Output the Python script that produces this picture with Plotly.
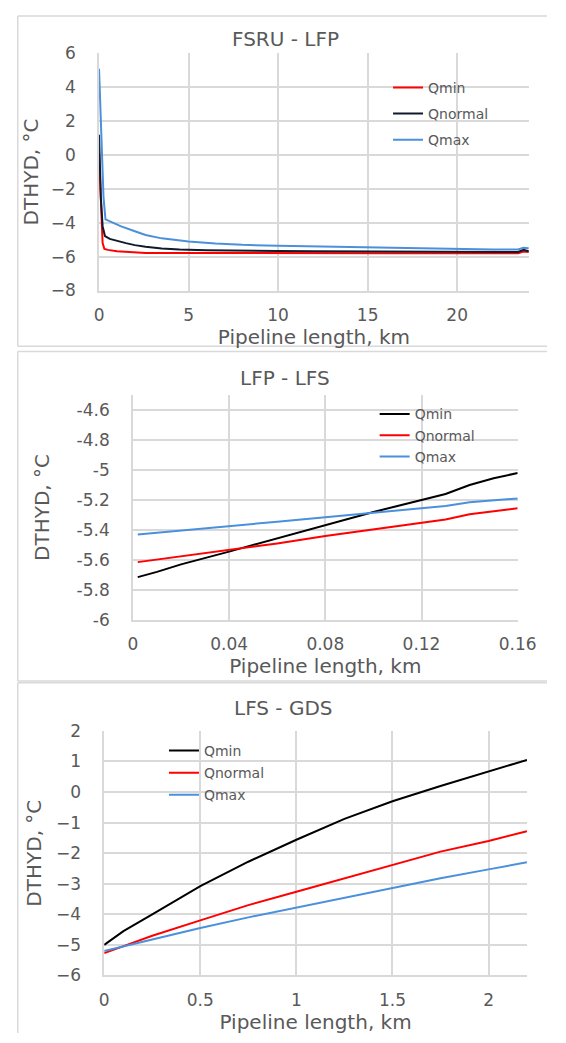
import plotly.graph_objects as go

W, H = 566, 1043

# ---------------- data ----------------
# Panel 1: FSRU - LFP
p1_qmin_x = [0, 0.1, 0.2, 0.3, 0.5, 1.0, 1.5, 2.0, 2.6, 4, 6, 8, 10, 12, 14, 16, 18, 20, 22, 23.4, 23.7, 24]
p1_qmin_y = [0.1, -3.0, -5.2, -5.55, -5.6, -5.68, -5.72, -5.75, -5.78, -5.78, -5.79, -5.79, -5.79, -5.79, -5.79, -5.8, -5.8, -5.8, -5.8, -5.8, -5.7, -5.72]
p1_qnorm_x = [0, 0.1, 0.2, 0.33, 0.6, 1.0, 1.5, 2.0, 2.6, 3.5, 4.5, 6, 8, 10, 12, 14, 16, 18, 20, 22, 23.4, 23.7, 24]
p1_qnorm_y = [1.2, -2.5, -4.2, -4.78, -4.95, -5.08, -5.2, -5.32, -5.42, -5.52, -5.58, -5.62, -5.66, -5.67, -5.68, -5.69, -5.71, -5.72, -5.72, -5.72, -5.72, -5.6, -5.68]
p1_qmax_x = [0, 0.05, 0.13, 0.25, 0.36, 0.7, 1.2, 2.0, 2.6, 3.5, 5, 6.5, 8, 10, 12, 14, 16, 18, 20, 22, 23.4, 23.7, 24]
p1_qmax_y = [5.1, 3.5, 0.9, -2.5, -3.8, -3.95, -4.2, -4.5, -4.72, -4.92, -5.1, -5.22, -5.3, -5.36, -5.4, -5.44, -5.48, -5.52, -5.56, -5.58, -5.58, -5.48, -5.5]

# Panel 2: LFP - LFS
p2_qmin_x = [0.002, 0.01, 0.02, 0.03, 0.04, 0.05, 0.06, 0.07, 0.08, 0.09, 0.1, 0.11, 0.12, 0.13, 0.14, 0.15, 0.16]
p2_qmin_y = [-5.715, -5.68, -5.63, -5.59, -5.545, -5.5, -5.455, -5.41, -5.365, -5.325, -5.28, -5.24, -5.2, -5.16, -5.1, -5.055, -5.02]
p2_qnorm_x = [0.002, 0.02, 0.04, 0.06, 0.08, 0.1, 0.12, 0.13, 0.14, 0.16]
p2_qnorm_y = [-5.615, -5.575, -5.53, -5.49, -5.44, -5.395, -5.35, -5.33, -5.295, -5.255]
p2_qmax_x = [0.002, 0.02, 0.04, 0.06, 0.08, 0.1, 0.12, 0.13, 0.14, 0.16]
p2_qmax_y = [-5.43, -5.405, -5.375, -5.345, -5.315, -5.285, -5.255, -5.24, -5.215, -5.19]

# Panel 3: LFS - GDS
p3_x = [0, 0.1, 0.25, 0.5, 0.75, 1.0, 1.25, 1.5, 1.75, 2.0, 2.2]
p3_qmin_y = [-5.0, -4.55, -4.0, -3.08, -2.28, -1.56, -0.88, -0.3, 0.2, 0.68, 1.05]
p3_qnorm_y = [-5.27, -5.05, -4.7, -4.2, -3.7, -3.26, -2.82, -2.38, -1.95, -1.6, -1.28]
p3_qmax_y = [-5.2, -5.05, -4.82, -4.45, -4.1, -3.78, -3.45, -3.13, -2.82, -2.53, -2.3]

titles = ["FSRU - LFP", "LFP - LFS", "LFS - GDS"]
p2_ytick_vals = [-6, -5.8, -5.6, -5.4, -5.2, -5, -4.8, -4.6]
p2_ytick_text = ["-6", "-5.8", "-5.6", "-5.4", "-5.2", "-5", "-4.8", "-4.6"]
p2_xtick_vals = [0, 0.04, 0.08, 0.12, 0.16]
p2_xtick_text = ["0", "0.04", "0.08", "0.12", "0.16"]

RED = "#ff0000"
BLACK = "#000000"
NAVY = "#111a2a"
BLUE = "#4a90dc"
TXT = "#595959"
GRID = "#d9d9d9"
FONT = "DejaVu Sans"


def px(x):
    return x / W


def py(y):
    return 1 - y / H


fig = go.Figure()

# panel 1
fig.add_trace(go.Scatter(x=p1_qmin_x, y=p1_qmin_y, name="Qmin", mode="lines",
                         line=dict(color=RED, width=2), xaxis="x", yaxis="y",
                         legend="legend", legendgroup="a1"))
fig.add_trace(go.Scatter(x=p1_qnorm_x, y=p1_qnorm_y, name="Qnormal", mode="lines",
                         line=dict(color=NAVY, width=2), xaxis="x", yaxis="y",
                         legend="legend", legendgroup="b1"))
fig.add_trace(go.Scatter(x=p1_qmax_x, y=p1_qmax_y, name="Qmax", mode="lines",
                         line=dict(color=BLUE, width=2), xaxis="x", yaxis="y",
                         legend="legend", legendgroup="c1"))
# panel 2
fig.add_trace(go.Scatter(x=p2_qmin_x, y=p2_qmin_y, name="Qmin", mode="lines",
                         line=dict(color=BLACK, width=2), xaxis="x2", yaxis="y2",
                         legend="legend2", legendgroup="a2"))
fig.add_trace(go.Scatter(x=p2_qnorm_x, y=p2_qnorm_y, name="Qnormal", mode="lines",
                         line=dict(color=RED, width=2), xaxis="x2", yaxis="y2",
                         legend="legend2", legendgroup="b2"))
fig.add_trace(go.Scatter(x=p2_qmax_x, y=p2_qmax_y, name="Qmax", mode="lines",
                         line=dict(color=BLUE, width=2), xaxis="x2", yaxis="y2",
                         legend="legend2", legendgroup="c2"))
# panel 3
fig.add_trace(go.Scatter(x=p3_x, y=p3_qmin_y, name="Qmin", mode="lines",
                         line=dict(color=BLACK, width=2), xaxis="x3", yaxis="y3",
                         legend="legend3", legendgroup="a3"))
fig.add_trace(go.Scatter(x=p3_x, y=p3_qnorm_y, name="Qnormal", mode="lines",
                         line=dict(color=RED, width=2), xaxis="x3", yaxis="y3",
                         legend="legend3", legendgroup="b3"))
fig.add_trace(go.Scatter(x=p3_x, y=p3_qmax_y, name="Qmax", mode="lines",
                         line=dict(color=BLUE, width=2), xaxis="x3", yaxis="y3",
                         legend="legend3", legendgroup="c3"))

tickfont = dict(family=FONT, size=17, color=TXT)
titlefont = dict(family=FONT, size=20, color=TXT)


def xaxis(domain, anchor, rng, standoff, **kw):
    d = dict(domain=domain, anchor=anchor, range=rng, showgrid=True, gridcolor=GRID,
             gridwidth=1.5, showline=True, linecolor=GRID, linewidth=1.5, zeroline=False,
             ticks="", tickfont=tickfont, ticklabelstandoff=8,
             title=dict(text="Pipeline length, km", font=titlefont, standoff=standoff))
    d.update(kw)
    return d


def yaxis(domain, anchor, rng, standoff, **kw):
    d = dict(domain=domain, anchor=anchor, range=rng, showgrid=True, gridcolor=GRID,
             gridwidth=1.5, showline=True, linecolor=GRID, linewidth=1.5, zeroline=False,
             ticks="", tickfont=tickfont, ticklabelstandoff=18,
             title=dict(text="DTHYD, \u00b0C", font=titlefont, standoff=standoff))
    d.update(kw)
    return d


legfont = dict(family=FONT, size=14, color=TXT)


def legend(x, y, gap):
    return dict(x=px(x), y=py(y), xanchor="left", yanchor="top", bgcolor="rgba(0,0,0,0)",
                font=legfont, tracegroupgap=gap, borderwidth=0, itemwidth=30)


fig.update_layout(
    width=W, height=H, margin=dict(l=0, r=0, t=0, b=0, pad=0),
    paper_bgcolor="white", plot_bgcolor="white",
    showlegend=True,
    xaxis=xaxis([px(98.2), px(547)], "y", [0, 24], 0, dtick=5, tick0=0),
    yaxis=yaxis([py(286), py(44.3)], "x", [-8, 6], 7, dtick=2, tick0=0),
    xaxis2=xaxis([px(133.6), px(535.4)], "y2", [0, 0.16], 3,
                 tickmode="array", tickvals=p2_xtick_vals, ticktext=p2_xtick_text),
    yaxis2=yaxis([py(621.7), py(392.7)], "x2", [-6, -4.5], 22,
                 tickmode="array", tickvals=p2_ytick_vals, ticktext=p2_ytick_text),
    xaxis3=xaxis([px(103.6), px(545.1)], "y3", [0, 2.2], 5, dtick=0.5, tick0=0),
    yaxis3=yaxis([py(984.3), py(735)], "x3", [-6, 2], 9, dtick=1, tick0=0),
    legend=legend(400, 63, 5),
    legend2=legend(386, 396, 0),
    legend3=legend(166, 739, 1),
)

# chart titles
for t, (cx, cy) in zip(titles, [(292.4, 30), (292.4, 375.7), (290.6, 711.7)]):
    fig.add_annotation(text=t, x=px(cx), y=py(cy), xref="paper", yref="paper",
                       xanchor="center", yanchor="middle", showarrow=False,
                       font=dict(family=FONT, size=20, color=TXT))

# panel borders (left, top, bottom edges; right side is cut off in the source)
BX = 13.3
for (y0, y1, has_bottom) in [(6, 342.7, True), (348.3, 684, True), (686, H, False)]:
    fig.add_shape(type="line", xref="paper", yref="paper", x0=px(BX), x1=1,
                  y0=py(y0), y1=py(y0), line=dict(color=GRID, width=1.5), layer="below")
    fig.add_shape(type="line", xref="paper", yref="paper", x0=px(BX), x1=px(BX),
                  y0=py(y0), y1=py(y1), line=dict(color=GRID, width=1.5), layer="below")
    if has_bottom:
        fig.add_shape(type="line", xref="paper", yref="paper", x0=px(BX), x1=1,
                      y0=py(y1), y1=py(y1), line=dict(color=GRID, width=1.5), layer="below")

fig.write_html("out.html")
